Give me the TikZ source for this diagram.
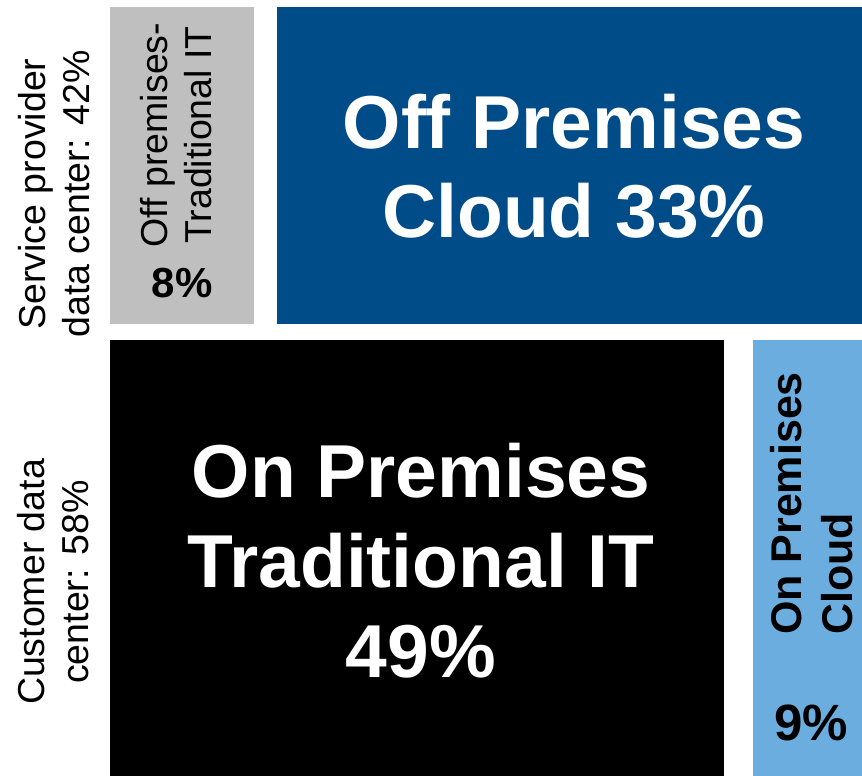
\documentclass[tikz,border=0pt]{standalone}
\usepackage{fontspec}
\setmainfont{Liberation Sans}
\definecolor{boxgray}{HTML}{BFBFBF}
\definecolor{darkblue}{HTML}{004C89}
\definecolor{lightblue}{HTML}{6CADDF}
\begin{document}
\begin{tikzpicture}[x=1pt,y=-1pt,
  block/.style={inner sep=0pt, outer sep=0pt},
  bigtext/.style={inner sep=0pt, text=white, align=center, font=\fontsize{75}{89}\selectfont\bfseries},
  sidetext/.style={inner sep=0pt, rotate=90, align=center, font=\fontsize{37.5}{44.5}\selectfont},
  pcttext/.style={inner sep=0pt, anchor=base, font=\bfseries}]
\useasboundingbox (0,0) rectangle (862,776);
\fill[white] (0,0) rectangle (862,776);
% boxes
\fill[boxgray] (110,7) rectangle (254,324);
\fill[darkblue] (277,7) rectangle (862,324);
\fill[black] (110,340) rectangle (724,776);
\fill[lightblue] (753,340) rectangle (862,776);
% texts
\node[bigtext] (offcloud) at (574,166.5) {Off Premises\\Cloud 33\%};
\node[bigtext, font=\fontsize{75}{90}\selectfont\bfseries] (ontrad) at (421,560.5) {On Premises\\Traditional IT\\49\%};
\node[sidetext] (spdc) at (54,194) {Service provider\\data center: 42\%};
\node[sidetext] (cdc) at (53,582) {Customer data\\center: 58\%};
\node[sidetext] (offtrad) at (176,135) {Off premises-\\Traditional IT};
\node[pcttext, font=\fontsize{42}{50}\selectfont\bfseries] (p8) at (182,297.5) {8\%};
\node[inner sep=0pt, rotate=90, align=left, font=\fontsize{43}{51}\selectfont\bfseries] (oncloud) at (812,503.5) {On Premises\\Cloud};
\node[pcttext, font=\fontsize{51}{60}\selectfont\bfseries] (p9) at (811,740) {9\%};
\end{tikzpicture}
\end{document}
